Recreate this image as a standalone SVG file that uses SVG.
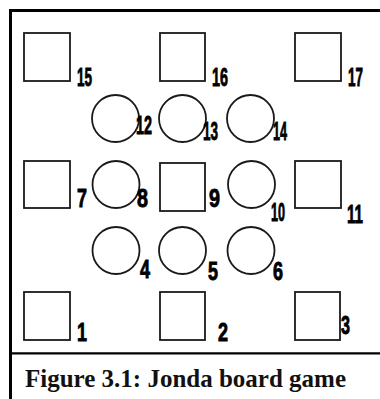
<svg xmlns="http://www.w3.org/2000/svg" width="380" height="399" viewBox="0 0 380 399">
<style>
.frame{fill:none;stroke:#000;stroke-width:3}
.sep{fill:none;stroke:#000;stroke-width:2.2}
.sq{fill:#fff;stroke:#1a1a1a;stroke-width:1.8}
.ci{fill:#fff;stroke:#1a1a1a;stroke-width:1.8}
.lb{font-family:"Liberation Sans","DejaVu Sans",sans-serif;font-weight:bold;font-size:26px;fill:#000;stroke:#000;stroke-width:0.9}
.cap{font-family:"Liberation Serif","DejaVu Serif",serif;font-weight:bold;font-size:26px;fill:#111}
</style>
<rect width="380" height="399" fill="#fff"/>
<path class="frame" d="M10.5,399 V10.5 H380"/>
<g id="connectors"></g>
<g id="n15"><rect class="sq" x="24" y="33" width="46" height="48"/><text class="lb" x="77" y="86" textLength="15" lengthAdjust="spacingAndGlyphs">15</text></g>
<g id="n16"><rect class="sq" x="160" y="33" width="45" height="48"/><text class="lb" x="212" y="86" textLength="16" lengthAdjust="spacingAndGlyphs">16</text></g>
<g id="n17"><rect class="sq" x="295" y="33" width="46" height="48"/><text class="lb" x="348" y="86" textLength="15" lengthAdjust="spacingAndGlyphs">17</text></g>
<g id="n12"><circle class="ci" cx="115.5" cy="118.5" r="23.5"/><text class="lb" x="136" y="134" textLength="16" lengthAdjust="spacingAndGlyphs">12</text></g>
<g id="n13"><circle class="ci" cx="182.5" cy="118.5" r="23.5"/><text class="lb" x="203" y="140" textLength="15" lengthAdjust="spacingAndGlyphs">13</text></g>
<g id="n14"><circle class="ci" cx="250.5" cy="118.5" r="23.5"/><text class="lb" x="273" y="140" textLength="14" lengthAdjust="spacingAndGlyphs">14</text></g>
<g id="n7"><rect class="sq" x="24" y="161" width="46" height="47"/><text class="lb" x="77" y="207" textLength="10" lengthAdjust="spacingAndGlyphs">7</text></g>
<g id="n8"><circle class="ci" cx="116" cy="184.5" r="23.5"/><text class="lb" x="137" y="207" textLength="11" lengthAdjust="spacingAndGlyphs">8</text></g>
<g id="n9"><rect class="sq" x="160" y="163" width="45" height="48"/><text class="lb" x="209" y="207" textLength="11" lengthAdjust="spacingAndGlyphs">9</text></g>
<g id="n10"><circle class="ci" cx="251.5" cy="184.5" r="23.5"/><text class="lb" x="271" y="221" textLength="14" lengthAdjust="spacingAndGlyphs">10</text></g>
<g id="n11"><rect class="sq" x="295" y="161" width="46" height="47"/><text class="lb" x="347" y="223" textLength="16" lengthAdjust="spacingAndGlyphs">11</text></g>
<g id="n4"><circle class="ci" cx="116" cy="250.5" r="23.5"/><text class="lb" x="140" y="278" textLength="10" lengthAdjust="spacingAndGlyphs">4</text></g>
<g id="n5"><circle class="ci" cx="182.5" cy="250.5" r="23.5"/><text class="lb" x="208" y="280" textLength="10" lengthAdjust="spacingAndGlyphs">5</text></g>
<g id="n6"><circle class="ci" cx="251" cy="250.5" r="23.5"/><text class="lb" x="273" y="280" textLength="10" lengthAdjust="spacingAndGlyphs">6</text></g>
<g id="n1"><rect class="sq" x="24" y="292" width="46" height="48"/><text class="lb" x="77" y="341" textLength="10" lengthAdjust="spacingAndGlyphs">1</text></g>
<g id="n2"><rect class="sq" x="160" y="292" width="45" height="48"/><text class="lb" x="218" y="341" textLength="10" lengthAdjust="spacingAndGlyphs">2</text></g>
<g id="n3"><rect class="sq" x="295" y="292" width="45" height="48"/><text class="lb" x="341" y="334" textLength="9" lengthAdjust="spacingAndGlyphs">3</text></g>
<path class="sep" d="M10.5,353.3 H380"/>
<text class="cap" x="25" y="387" textLength="321" lengthAdjust="spacingAndGlyphs">Figure 3.1: Jonda board game</text>
</svg>
